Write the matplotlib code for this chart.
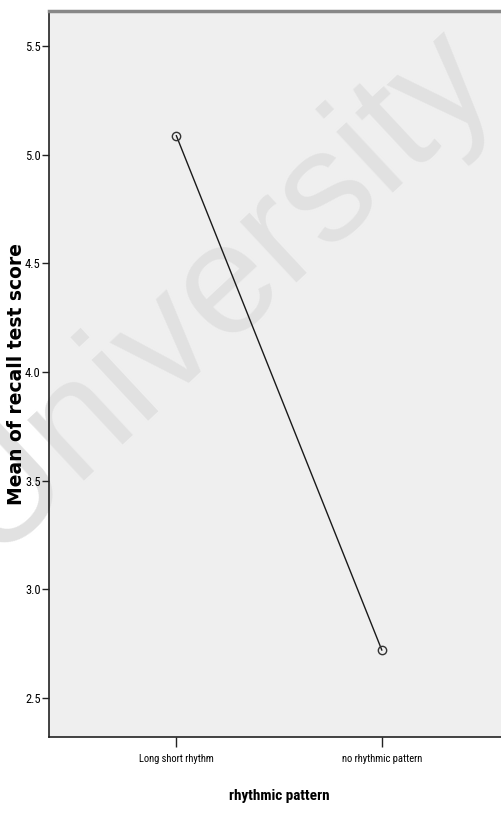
import matplotlib
matplotlib.use("Agg")
import matplotlib.pyplot as plt
from matplotlib import font_manager

# dados
categorias = ["Long short rhythm", "no rhythmic pattern"]
medias = [5.087, 2.72]
yticks = [2.5, 3.0, 3.5, 4.0, 4.5, 5.0, 5.5]

# procura uma fonte estreita instalada
nomes = {f.name for f in font_manager.fontManager.ttflist}
narrow = None
for cand in ["Liberation Sans Narrow", "Arial Narrow", "DejaVu Sans Condensed",
             "Roboto Condensed", "Open Sans Condensed", "Noto Sans Condensed"]:
    if cand in nomes:
        narrow = cand
        break
if narrow is None:
    narrow = "Liberation Sans"
    esc = 0.85
else:
    esc = 1.0

fig = plt.figure(figsize=(5.02, 8.17), dpi=100)
ax = fig.add_axes([0.0976, 0.098, 0.9044, 0.8885])
ax.set_facecolor("#efefef")

x = list(range(len(categorias)))
ax.plot(x, medias, color="#1a1a1a", linewidth=1.0, marker="o",
        markersize=6, markerfacecolor="none", markeredgecolor="#333333",
        markeredgewidth=1.0, zorder=3)

ax.set_xlim(-0.62, 1.59)
ax.set_ylim(2.32, 5.661)
ax.set_xticks(x)
ax.set_xticklabels(categorias, family=narrow, fontsize=7.6 * esc)
ax.set_yticks(yticks)
ax.set_yticklabels([f"{v:.1f}" for v in yticks], family=narrow, fontsize=9 * esc)
ax.tick_params(axis="y", length=5, width=1, color="#222222", pad=1)
ax.tick_params(axis="x", length=7, width=1, color="#222222", pad=5)

for s in ["left", "bottom"]:
    ax.spines[s].set_color("#222222")
    ax.spines[s].set_linewidth(1.2)
ax.spines["right"].set_visible(False)
ax.spines["top"].set_color("#888888")
ax.spines["top"].set_linewidth(2.5)

ax.set_xlabel("rhythmic pattern", family=narrow, fontsize=11 * esc,
              fontweight="bold")
ax.xaxis.set_label_coords((279 - 49) / 453, -0.072)
ax.set_ylabel("Mean of recall test score", family="DejaVu Sans",
              fontsize=13.5, fontweight="bold")
ax.yaxis.set_label_coords(-0.051, 0.5)

# marca d'agua
ax.text(0.37, 0.615, "University", transform=ax.transAxes, fontsize=114,
        family="Liberation Sans", color="#e1e1e1", rotation=43,
        ha="center", va="center", clip_on=False, zorder=1)

fig.savefig("out.png", dpi=100)
